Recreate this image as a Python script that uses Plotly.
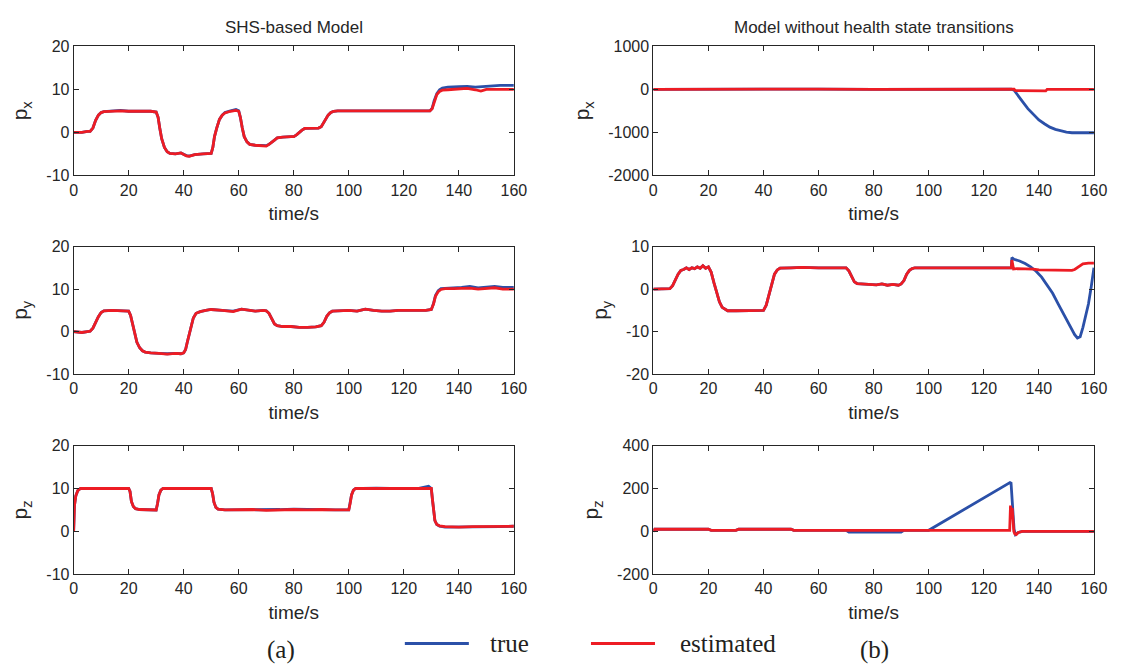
import plotly.graph_objects as go

W, H = 1123, 671
BLUE = "#2B50A8"
RED = "#ED1C24"
INK = "#262626"

# ---------------- (a) SHS-based model ----------------
t_px_a = [0, 3, 5, 6, 7, 8, 9, 10, 11, 14, 17, 20, 24, 28, 30, 30.7, 31.3, 32, 33, 34, 35, 37, 39, 41, 42, 44, 47, 50,
          50.6, 51.2, 52, 53, 54, 55, 57, 59, 60, 60.6, 61.3, 62, 63, 64, 66, 68, 70, 71, 72, 73, 74, 76, 79, 80, 81,
          82, 83, 84, 86, 89, 90, 90.8, 91.5, 92.5, 93.5, 94.5, 96, 100, 104, 108, 112, 116, 120, 124, 128, 129.5,
          130.3, 131, 132, 133, 134, 136, 140, 143, 146, 148, 150, 155, 160]
px_est_a = [0, 0, 0.2, 0.2, 1.0, 2.8, 4.0, 4.6, 4.8, 4.9, 5.0, 4.9, 4.9, 4.9, 4.7, 3.5, 1.0, -1.5, -3.5, -4.5, -4.9,
            -5.0, -4.8, -5.5, -5.6, -5.2, -5.0, -4.9, -3.5, -1.0, 1.0, 3.0, 4.0, 4.5, 4.9, 5.1, 4.9, 3.5, 1.0, -1.0,
            -2.2, -2.8, -3.0, -3.1, -3.2, -2.8, -2.2, -1.8, -1.3, -1.1, -1.0, -1.0, -0.6, 0.0, 0.5, 0.9, 1.0, 1.0,
            1.3, 2.2, 3.0, 4.0, 4.6, 4.9, 5.0, 5.0, 5.0, 5.0, 4.9, 5.0, 4.9, 5.0, 4.9, 5.0, 5.5, 7.0, 8.8, 9.5, 9.8,
            9.9, 10.0, 10.2, 9.9, 9.6, 10.0, 10.0, 10.0]
px_true_a = [0, 0, 0.2, 0.2, 1.0, 2.8, 4.0, 4.6, 4.8, 4.9, 5.1, 4.9, 4.9, 4.9, 4.7, 3.5, 1.0, -1.5, -3.5, -4.5, -4.9,
             -5.0, -4.8, -5.4, -5.5, -5.2, -5.0, -4.9, -3.5, -1.0, 1.0, 3.0, 4.0, 4.6, 5.0, 5.3, 5.0, 3.5, 1.0, -1.0,
             -2.2, -2.8, -3.0, -3.1, -3.1, -2.8, -2.2, -1.8, -1.3, -1.1, -1.0, -1.0, -0.6, 0.0, 0.5, 0.9, 1.0, 1.0,
             1.3, 2.2, 3.0, 4.0, 4.6, 4.9, 5.0, 5.0, 5.0, 5.0, 4.9, 5.0, 4.9, 5.0, 4.9, 5.0, 5.6, 7.3, 9.0, 9.9, 10.3,
             10.5, 10.6, 10.7, 10.5, 10.6, 10.8, 10.9, 10.9]

t_py_a = [0, 3, 5, 6, 7, 8, 9, 10, 11, 14, 17, 20, 20.7, 21.3, 22, 23, 24, 25, 26, 28, 31, 34, 37, 39, 40, 40.7, 41.3,
          42, 42.7, 43.5, 44.5, 46, 48, 50, 54, 58, 61, 64, 66, 69, 70, 71, 72, 73, 74, 76, 79, 82, 85, 88, 90, 91,
          92, 93, 94, 96, 100, 103, 106, 109, 112, 115, 118, 121, 125, 128, 130, 130.8, 131.5, 132.5, 133.5, 135,
          138, 141, 144, 147, 150, 153, 156, 160]
py_est_a = [0, -0.2, 0, 0.1, 0.8, 2.2, 3.5, 4.5, 4.9, 5.0, 4.9, 4.8, 3.8, 2.0, 0.0, -2.5, -3.8, -4.5, -4.8, -5.0,
            -5.1, -5.3, -5.1, -5.2, -5.0, -4.2, -2.5, -0.5, 1.5, 3.2, 4.3, 4.7, 5.0, 5.2, 5.0, 4.7, 5.3, 5.0, 4.8,
            5.0, 4.9, 4.3, 3.0, 1.8, 1.4, 1.2, 1.2, 1.0, 1.0, 1.1, 1.4, 2.2, 3.6, 4.4, 4.8, 4.9, 5.0, 4.8, 5.3, 5.0,
            4.8, 4.8, 5.0, 5.0, 5.0, 5.0, 5.2, 6.5, 8.3, 9.4, 9.9, 10.1, 10.1, 10.2, 10.2, 10.0, 10.2, 10.3, 10.0,
            10.0]
py_true_a = [0, -0.2, 0, 0.1, 0.8, 2.2, 3.5, 4.5, 4.9, 5.0, 4.9, 4.8, 3.8, 2.0, 0.0, -2.5, -3.8, -4.5, -4.8, -5.0,
             -5.1, -5.2, -5.1, -5.2, -5.0, -4.2, -2.5, -0.5, 1.5, 3.2, 4.3, 4.7, 5.0, 5.2, 5.0, 4.8, 5.3, 5.0, 4.8,
             5.0, 4.9, 4.3, 3.0, 1.8, 1.4, 1.2, 1.2, 1.0, 1.0, 1.1, 1.4, 2.2, 3.6, 4.4, 4.8, 4.9, 5.0, 4.8, 5.3, 5.0,
             4.8, 4.8, 5.0, 5.0, 5.0, 5.0, 5.2, 6.6, 8.5, 9.6, 10.1, 10.2, 10.3, 10.4, 10.6, 10.3, 10.4, 10.6, 10.4,
             10.4]

t_pz_a = [0, 0.3, 0.8, 1.5, 2.5, 5, 10, 15, 20, 20.5, 21, 21.7, 22.5, 24, 27, 30, 30.5, 31, 31.7, 32.5, 35, 40, 45,
          50, 50.5, 51, 51.7, 52.5, 55, 60, 65, 70, 75, 80, 85, 90, 95, 100, 100.5, 101, 101.7, 102.5, 105, 110, 115,
          120, 125, 129, 130, 130.4, 130.8, 131.3, 132, 133, 135, 140, 145, 150, 155, 160]
pz_est_a = [0, 6.0, 8.3, 9.5, 10.0, 10.0, 10.0, 10.0, 10.0, 9.3, 7.0, 5.8, 5.3, 5.1, 5.0, 5.0, 6.5, 8.5, 9.6, 10.0,
            10.0, 10.0, 10.0, 10.0, 8.8, 6.8, 5.6, 5.2, 5.0, 5.0, 5.1, 4.9, 5.0, 5.1, 5.0, 5.1, 5.0, 5.0, 6.5, 8.5,
            9.6, 10.0, 10.0, 10.0, 10.0, 10.0, 10.0, 10.0, 10.0, 7.5, 4.5, 2.5, 1.6, 1.3, 1.1, 1.0, 1.1, 1.1, 1.2,
            1.2]
pz_true_a = [0, 6.0, 8.3, 9.5, 10.0, 10.0, 10.0, 10.0, 10.0, 9.3, 7.0, 5.8, 5.3, 5.1, 5.0, 5.0, 6.5, 8.5, 9.6, 10.0,
             10.0, 10.0, 10.0, 10.0, 8.8, 6.8, 5.6, 5.2, 5.0, 5.0, 5.1, 5.0, 5.1, 5.2, 5.1, 5.1, 5.0, 5.0, 6.5, 8.5,
             9.6, 10.0, 10.0, 10.1, 10.0, 10.0, 10.0, 10.5, 10.0, 7.5, 4.5, 2.5, 1.6, 1.2, 1.0, 1.0, 1.0, 1.1, 1.1,
             1.2]

# ---------------- (b) model without health state transitions ----------------
t_px_true_b = [0, 20, 40, 60, 80, 100, 120, 130, 131, 132, 134, 136, 138, 140, 142, 144, 146, 148, 150, 152, 155, 160]
px_true_b = [0, 5, -5, 5, 0, 5, 5, 5, -20, -100, -280, -450, -590, -710, -800, -880, -930, -970, -995, -1010, -1010,
             -1010]
t_px_est_b = [0, 20, 40, 60, 80, 100, 120, 130, 131, 131.5, 142.5, 143, 160]
px_est_b = [0, 5, -5, 5, 0, 5, 5, 5, 5, -30, -35, 0, 0]

t_py_common_b = [0, 3, 6, 7, 8, 9, 10, 11, 12, 13, 14, 15, 16, 17, 18, 19, 20, 21, 22, 23, 24, 25, 26, 27, 30, 35, 40,
                 41, 42, 43, 44, 45, 46, 50, 54, 60, 66, 70, 71, 72, 73, 74, 76, 79, 81, 83, 85, 87, 89, 90, 91, 92,
                 93, 94, 95, 100, 110, 120, 125, 130]
py_common_b = [0, 0, 0.1, 0.8, 2.2, 3.5, 4.4, 4.6, 5.0, 4.6, 5.0, 4.8, 5.2, 4.9, 5.5, 4.9, 5.2, 4.0, 1.5, -1.0, -3.0,
               -4.3, -4.8, -5.1, -5.1, -5.1, -5.0, -3.8, -1.2, 1.5, 3.5, 4.5, 4.9, 5.0, 5.1, 5.0, 5.0, 5.0, 4.3, 2.8,
               1.7, 1.3, 1.2, 1.2, 1.0, 1.2, 0.9, 1.1, 0.9, 1.2, 2.0, 3.5, 4.4, 4.8, 5.0, 5.0, 5.0, 5.0, 5.1, 5.0]
t_py_est_tail_b = [130.2, 130.8, 132, 135, 138, 140, 145, 150, 152, 153, 154, 155, 156, 158, 160]
py_est_tail_b = [6.8, 4.7, 4.8, 4.8, 4.7, 4.5, 4.4, 4.4, 4.4, 4.6, 5.0, 5.5, 5.9, 6.1, 6.1]
t_py_true_tail_b = [130.2, 131, 133, 135, 137, 139, 141, 143, 145, 147, 149, 151, 153, 154, 155, 156, 157, 158, 159,
                    160]
py_true_tail_b = [7.4, 7.0, 6.6, 6.0, 5.2, 4.2, 2.8, 1.0, -1.0, -3.5, -6.0, -8.5, -10.7, -11.5, -11.2, -9.0, -6.5,
                  -3.5, 0.5, 5.0]

t_pz_est_b = [0, 0.5, 20, 21, 30, 31, 50, 51, 70, 90, 100, 129.4, 129.7, 130.0, 130.3, 130.6, 130.9, 131.3, 131.8,
              132.5, 134, 160]
pz_est_b = [0, 10, 10, 5, 5, 10, 10, 5, 5, 5, 5, 5, 120, 60, 110, 40, 0, -12, -15, -5, 0, 0]
t_pz_true_b = [0, 0.5, 20, 21, 30, 31, 50, 51, 70, 71, 90, 91, 100, 110, 120, 129.5, 129.9, 130.4, 131, 131.5, 132.5,
               134, 160]
pz_true_b = [0, 10, 10, 5, 5, 10, 10, 5, 5, -3, -3, 5, 5, 80, 155, 228, 225, 120, 10, -15, -5, 0, 0]

x_ticks = [0, 20, 40, 60, 80, 100, 120, 140, 160]
y_ticks = {1: [-10, 0, 10, 20], 2: [-2000, -1000, 0, 1000], 3: [-10, 0, 10, 20], 4: [-20, -10, 0, 10],
           5: [-10, 0, 10, 20], 6: [-200, 0, 200, 400]}
y_titles = {1: "p<sub>x</sub>", 2: "p<sub>x</sub>", 3: "p<sub>y</sub>", 4: "p<sub>y</sub>",
            5: "p<sub>z</sub>", 6: "p<sub>z</sub>"}
x_title = "time/s"
col_titles = ["SHS-based Model", "Model without health state transitions"]

series = {
    1: (t_px_a, px_true_a, t_px_a, px_est_a),
    2: (t_px_true_b, px_true_b, t_px_est_b, px_est_b),
    3: (t_py_a, py_true_a, t_py_a, py_est_a),
    4: (t_py_common_b + t_py_true_tail_b, py_common_b + py_true_tail_b,
        t_py_common_b + t_py_est_tail_b, py_common_b + py_est_tail_b),
    5: (t_pz_a, pz_true_a, t_pz_a, pz_est_a),
    6: (t_pz_true_b, pz_true_b, t_pz_est_b, pz_est_b),
}

# layout geometry (pixels)
col_px = {0: (70.7, 517.7), 1: (659.3, 1106.7)}
row_px = {0: (39.3, 171.7), 1: (244.7, 375.7), 2: (449.0, 581.0)}

fig = go.Figure()
layout = dict(width=W, height=H, margin=dict(l=0, r=0, t=0, b=0), showlegend=False,
              plot_bgcolor="white", paper_bgcolor="white")
annotations = []
SANS = "Liberation Sans, Arial, sans-serif"
tick_font = dict(family=SANS, size=16, color=INK)

for k in range(1, 7):
    r, c = (k - 1) // 2, (k - 1) % 2
    x0, x1 = col_px[c]
    y0, y1 = row_px[r]
    sfx = "" if k == 1 else str(k)
    ax_common = dict(showline=True, linecolor=INK, linewidth=1, mirror="ticks", ticks="inside", ticklen=5,
                     tickcolor=INK, showgrid=False, zeroline=False, tickfont=tick_font)
    layout["xaxis" + sfx] = dict(domain=[x0 / W, x1 / W], anchor="y" + sfx, range=[0, 160], tickvals=x_ticks,
                                 ticktext=[str(v) for v in x_ticks],
                                 title=dict(text=x_title, standoff=9,
                                            font=dict(family=SANS, size=19, color=INK)),
                                 **ax_common)
    yt_vals = y_ticks[k]
    layout["yaxis" + sfx] = dict(domain=[1 - y1 / H, 1 - y0 / H], anchor="x" + sfx,
                                 range=[yt_vals[0], yt_vals[-1]], tickvals=yt_vals,
                                 ticktext=[str(v) for v in yt_vals],
                                 title=dict(text=y_titles[k], standoff=12,
                                            font=dict(family=SANS, size=21, color=INK)),
                                 **ax_common)
    tt, yt, te, ye = series[k]
    fig.add_trace(go.Scatter(x=tt, y=yt, mode="lines", line=dict(color=BLUE, width=2.8), name="true",
                             xaxis="x" + sfx, yaxis="y" + sfx))
    fig.add_trace(go.Scatter(x=te, y=ye, mode="lines", line=dict(color=RED, width=2.8), name="estimated",
                             xaxis="x" + sfx, yaxis="y" + sfx))

for c in range(2):
    x0, x1 = col_px[c]
    annotations.append(dict(text=col_titles[c], x=(x0 + x1) / 2 / W, y=1 - 20 / H, xref="paper", yref="paper",
                            showarrow=False, xanchor="center", yanchor="middle",
                            font=dict(family=SANS, size=17, color=INK)))

serif = dict(family="Liberation Serif, Times New Roman, serif", size=25, color="#231F20")
annotations += [
    dict(text="(a)", x=281 / W, y=1 - 659 / H, xref="paper", yref="paper", showarrow=False,
         xanchor="center", yanchor="middle", font=serif),
    dict(text="(b)", x=884 / W, y=1 - 659 / H, xref="paper", yref="paper", showarrow=False,
         xanchor="center", yanchor="middle", font=serif),
    dict(text="true", x=491 / W, y=1 - 652 / H, xref="paper", yref="paper", showarrow=False,
         xanchor="left", yanchor="middle", font=serif),
    dict(text="estimated", x=684 / W, y=1 - 652 / H, xref="paper", yref="paper", showarrow=False,
         xanchor="left", yanchor="middle", font=serif),
]
layout["annotations"] = annotations
layout["shapes"] = [
    dict(type="line", xref="paper", yref="paper", x0=407 / W, x1=472 / W, y0=1 - 652 / H, y1=1 - 652 / H,
         line=dict(color=BLUE, width=3)),
    dict(type="line", xref="paper", yref="paper", x0=596 / W, x1=661 / W, y0=1 - 652 / H, y1=1 - 652 / H,
         line=dict(color=RED, width=3)),
]
fig.update_layout(**layout)
fig.write_html("out.html")
